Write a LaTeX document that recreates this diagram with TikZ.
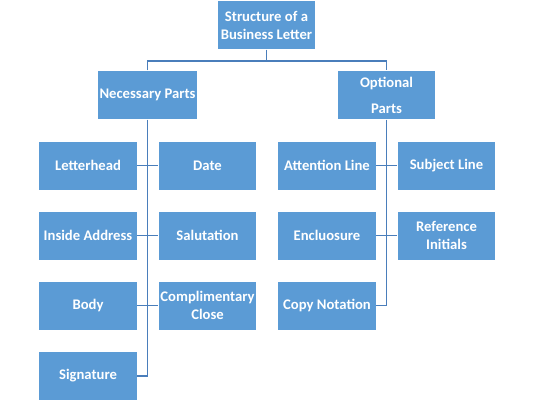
\documentclass[tikz,border=0pt]{standalone}
\usepackage{fontspec}
\setmainfont{Carlito}
\definecolor{boxblue}{HTML}{5B9BD5}
\definecolor{lineblue}{HTML}{4A7EBB}
\begin{document}
\begin{tikzpicture}[x=0.75pt, y=-0.75pt, every node/.style={rectangle, fill=boxblue, text=white, font=\fontsize{11}{13.5}\selectfont\bfseries, align=center, minimum width=72.9pt, minimum height=36pt, inner sep=1pt}, every path/.style={draw=lineblue, line width=0.8pt}]
	\useasboundingbox[draw=none] (0,0) rectangle (534,400);
	\node (title) at (266.5,25) {Structure of a\\Business Letter};
	\node (nec) at (147.5,95) {Necessary Parts};
	\node[font=\fontsize{11}{19.5}\selectfont\bfseries] (opt) at (386.5,95) {Optional\\Parts};
	\node (lhead) at (88,165.5) {Letterhead};
	\node (date) at (207.5,165.5) {Date};
	\node (inaddr) at (88,235.5) {Inside Address};
	\node (salut) at (207.5,235.5) {Salutation};
	\node (body) at (88,305.5) {Body};
	\node (close) at (207.5,305.5) {Complimentary\\Close};
	\node (sig) at (88,376) {Signature};
	\node (attn) at (327,165.5) {Attention Line};
	\node (subj) at (446.5,165.5) {Subject Line};
	\node (encl) at (327,235.5) {Encluosure};
	\node (refin) at (446.5,235.5) {Reference\\Initials};
	\node (copy) at (327,305.5) {Copy Notation};
	\coordinate (split) at (266.5,61);
	\draw (title.south) -- (split);
	\draw (nec.north) |- (split) -| (opt.north);
	\draw (nec.south) |- (sig.east);
	\draw (lhead.east) -- (date.west);
	\draw (inaddr.east) -- (salut.west);
	\draw (body.east) -- (close.west);
	\draw (opt.south) |- (copy.east);
	\draw (attn.east) -- (subj.west);
	\draw (encl.east) -- (refin.west);
\end{tikzpicture}
\end{document}
